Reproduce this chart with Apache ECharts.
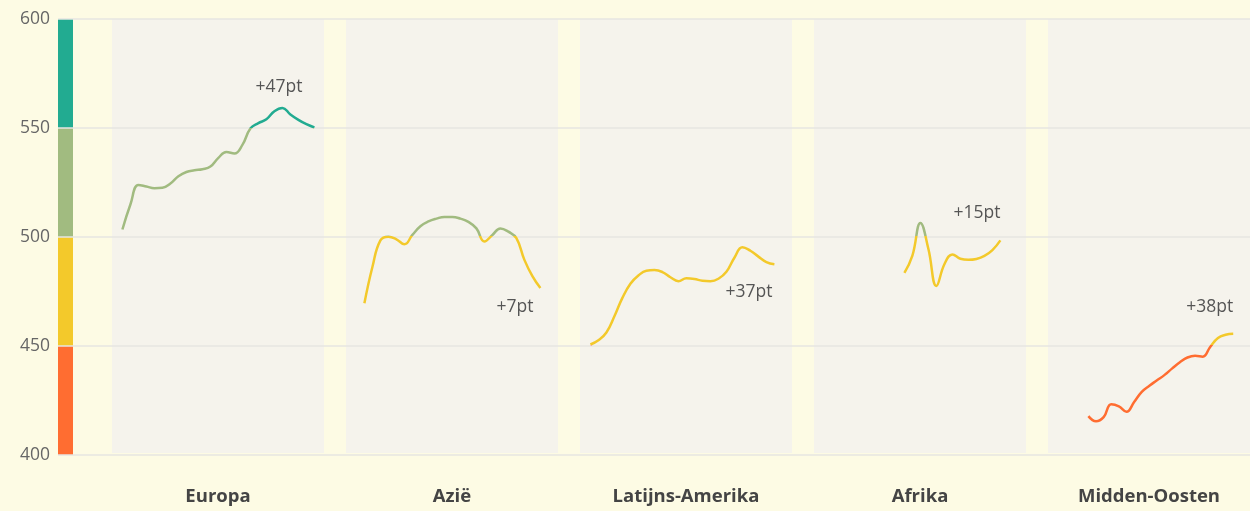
<!DOCTYPE html>
<html>
<head>
<meta charset="utf-8">
<script src="https://cdn.jsdelivr.net/npm/echarts@6/dist/echarts.min.js"></script>
<style>
    html, body { margin: 0; padding: 0; background: #fdfbe4; }
    #chart { width: 1250px; height: 511px; }
</style>
</head>
<body>
<div id="chart"></div>
<script>
// regio's en scores per jaar
var regions = ['Europa', 'Azië', 'Latijns-Amerika', 'Afrika', 'Midden-Oosten'];
var startYears = [2000, 2001, 2000, 2010, 2004];

var europa = [503, 514.5, 523.5, 522.8, 522, 522.2, 524.2, 527.5, 529.5, 530.3, 530.8, 532, 536,
    538.7, 538, 542, 549.5, 552, 553.8, 557.5, 559, 556, 553.5, 551.5, 550];
var azie = [469, 485.7, 498, 499.7, 498.5, 496.2, 500.5, 504.5, 506.7, 508, 508.8, 508.8, 508,
    506.5, 503.5, 497.5, 500.5, 503.5, 502, 499, 489, 481.5, 476];
var latijnsAmerika = [450, 452, 455.5, 463, 471.5, 478, 481.8, 484, 484.3, 483.4, 481, 479.2, 480.5,
    480.2, 479.4, 479.2, 480.3, 483.5, 490, 494.8, 493.2, 490.5, 488, 487];
var afrika = [483, 491, 506, 494, 477, 487, 491.5, 489.5, 489, 489.4, 490.8, 493.5, 498];
var middenOosten = [417, 414.6, 416.5, 422.5, 421.5, 419, 423.5, 428.2, 431, 433.5, 436, 439,
    441.8, 444, 444.8, 444.4, 449, 453, 454.5, 455];
var scores = [europa, azie, latijnsAmerika, afrika, middenOosten];

// niveaus op de y-as
var yTicks = [400, 450, 500, 550, 600];
var bandColors = ['#ff6d31', '#f3c92b', '#a1bb80', '#22ab91'];

// plek van de "+..pt" labels (dx, dy in px)
var labelOffsets = [[-7, -40], [-2, 19], [3, 28], [5, -27], [5, -27]];

var chartDom = document.getElementById('chart');
var myChart = echarts.init(chartDom);

var FONT = 'Open Sans';
var GRID_TOP = 19, GRID_BOTTOM = 56;
var PANEL_LEFT = 112, PANEL_STEP = 234, PANEL_WIDTH = 212;
var X_MIN = 1998.7, X_MAX = 2025.2;

var bands = [];
for (var b = 0; b < bandColors.length; b++) {
    bands.push({ min: yTicks[b], max: yTicks[b + 1], color: bandColors[b] });
}

var grids = [{ left: 58, right: 0, top: GRID_TOP, bottom: GRID_BOTTOM }];
var xAxes = [{ gridIndex: 0, type: 'value', show: false, min: 0, max: 1 }];
var yAxes = [{
    gridIndex: 0,
    type: 'value',
    min: yTicks[0],
    max: yTicks[yTicks.length - 1],
    interval: 50,
    axisLine: { show: false },
    axisTick: { show: false },
    axisLabel: { color: '#666', fontSize: 17.5, fontFamily: FONT, margin: 8 },
    splitLine: { lineStyle: { color: '#e6e6e2', width: 1.5 } }
}];
var series = [];

regions.forEach(function (name, i) {
    grids.push({
        show: true,
        backgroundColor: '#f5f3ec',
        borderWidth: 0,
        left: PANEL_LEFT + PANEL_STEP * i,
        width: PANEL_WIDTH,
        top: GRID_TOP,
        bottom: GRID_BOTTOM
    });
    xAxes.push({
        gridIndex: i + 1,
        type: 'value',
        min: X_MIN,
        max: X_MAX,
        name: name,
        nameLocation: 'middle',
        nameGap: 34,
        nameTextStyle: { color: '#444', fontSize: 18.5, fontWeight: 'bold', fontFamily: FONT },
        axisLine: { show: false },
        axisTick: { show: false },
        axisLabel: { show: false },
        splitLine: { show: false }
    });
    yAxes.push({
        gridIndex: i + 1,
        type: 'value',
        min: yTicks[0],
        max: yTicks[yTicks.length - 1],
        show: false
    });

    var vals = scores[i];
    var data = vals.map(function (v, k) { return [startYears[i] + k, v]; });
    var last = data[data.length - 1];
    var delta = Math.round(vals[vals.length - 1] - vals[0]);

    series.push({
        name: name,
        type: 'line',
        xAxisIndex: i + 1,
        yAxisIndex: i + 1,
        smooth: 0.45,
        showSymbol: false,
        lineStyle: { width: 2.5 },
        data: data,
        markPoint: {
            symbol: 'circle',
            symbolSize: 0,
            silent: true,
            label: {
                show: true,
                position: 'left',
                distance: 5,
                offset: labelOffsets[i],
                formatter: (delta >= 0 ? '+' : '') + delta + 'pt',
                color: '#555',
                fontSize: 17.5,
                fontFamily: FONT
            },
            data: [{ coord: last }]
        }
    });
});

// kleurbalk links
grids.push({ left: 58, width: 15, top: GRID_TOP, bottom: GRID_BOTTOM });
xAxes.push({ gridIndex: 6, type: 'category', data: [''], show: false });
yAxes.push({ gridIndex: 6, type: 'value', min: yTicks[0], max: yTicks[yTicks.length - 1], show: false });
bands.slice().reverse().forEach(function (band) {
    series.push({
        type: 'bar',
        xAxisIndex: 6,
        yAxisIndex: 6,
        barWidth: '100%',
        barGap: '-100%',
        z: -1,
        silent: true,
        itemStyle: { color: band.color },
        data: [band.max]
    });
});

var option = {
    backgroundColor: '#fdfbe4',
    animation: false,
    grid: grids,
    xAxis: xAxes,
    yAxis: yAxes,
    visualMap: {
        show: false,
        type: 'piecewise',
        dimension: 1,
        seriesIndex: [0, 1, 2, 3, 4],
        pieces: bands.map(function (band, k) {
            var p = { gte: band.min, color: band.color };
            if (k === bands.length - 1) p.lte = band.max; else p.lt = band.max;
            return p;
        })
    },
    series: series
};

option && myChart.setOption(option);

window.addEventListener('resize', function () {
    myChart.resize();
});
</script>
</body>
</html>
